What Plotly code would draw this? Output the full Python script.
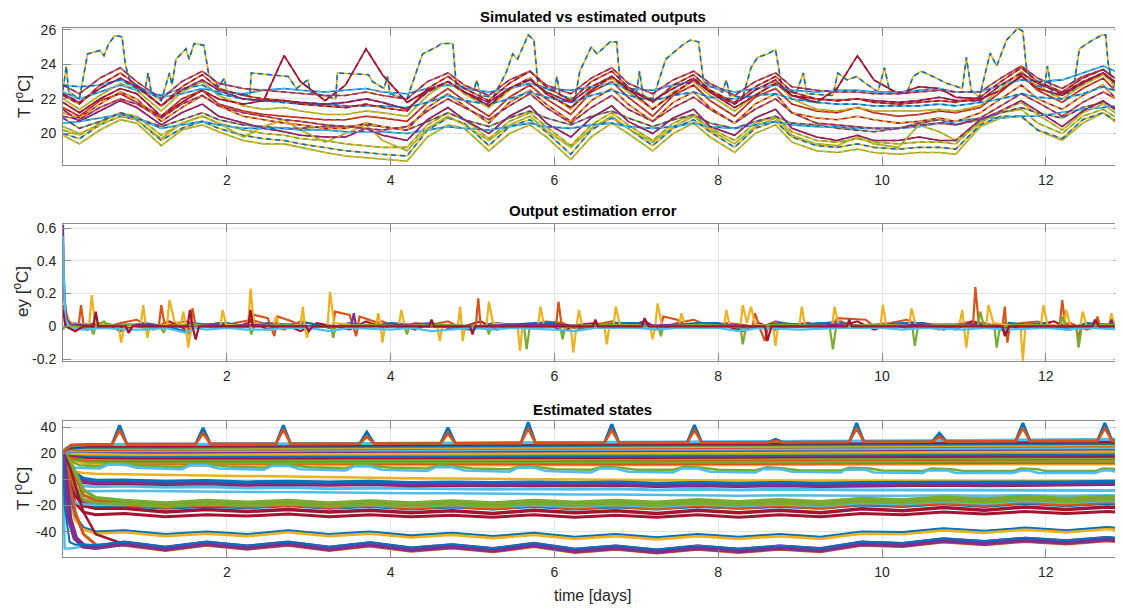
import plotly.graph_objects as go

# ---------------- colours (MATLAB default order) ----------------
BLU = '#0072BD'; ORA = '#D95319'; YEL = '#EDB120'; PUR = '#7E2F8E'
GRN = '#77AC30'; LBL = '#4DBEEE'; DRD = '#A2142F'

# ---------------- panel 1 : simulated vs estimated outputs ----------------
TOP_X = [0.0,
         0.2, 0.45, 0.7, 0.9, 1.2, 1.45, 1.7, 1.9, 2.2, 2.45, 2.7, 2.9,
         3.2, 3.45, 3.7, 3.9, 4.2, 4.45, 4.7, 4.9, 5.2, 5.45, 5.7, 5.9,
         6.2, 6.45, 6.7, 6.9, 7.2, 7.45, 7.7, 7.9, 8.2, 8.45, 8.7, 8.9,
         9.2, 9.45, 9.7, 9.9, 10.2, 10.45, 10.7, 10.9, 11.2, 11.45, 11.7, 11.9,
         12.2, 12.45, 12.7, 12.9, 13.0]

HIGH = [(0.0, 22.5), (0.04, 23.9), (0.07, 22.4), (0.2, 22.0), (0.3, 24.6), (0.45, 24.8), (0.5, 24.5),
        (0.56, 25.2), (0.63, 25.65), (0.72, 25.6), (0.76, 24.0), (0.82, 23.0), (1.0, 22.5), (1.04, 23.5),
        (1.08, 22.3), (1.2, 21.9), (1.3, 23.5), (1.33, 22.8), (1.38, 24.3), (1.5, 24.9), (1.54, 24.3),
        (1.6, 25.2), (1.72, 25.1), (1.78, 23.4), (1.9, 22.7), (1.97, 23.2), (2.0, 22.4), (2.28, 22.2),
        (2.3, 23.5), (2.75, 23.3), (2.85, 22.6), (2.99, 23.1), (3.02, 22.4), (3.33, 22.0), (3.35, 23.5),
        (3.73, 23.4), (3.78, 23.0), (3.92, 22.6), (3.96, 23.3), (3.99, 22.3), (4.2, 22.0), (4.39, 24.6),
        (4.56, 25.0), (4.62, 25.2), (4.76, 25.2), (4.8, 22.8), (5.02, 22.5), (5.05, 23.1), (5.1, 22.2),
        (5.25, 22.1), (5.41, 23.5), (5.49, 24.6), (5.55, 24.3), (5.68, 25.7), (5.75, 25.4), (5.8, 22.8),
        (6.0, 22.4), (6.03, 23.3), (6.07, 22.2), (6.25, 22.0), (6.31, 23.6), (6.45, 25.0), (6.52, 24.6),
        (6.68, 25.3), (6.76, 25.3), (6.8, 23.0), (7.0, 22.3), (7.04, 23.6), (7.08, 22.2), (7.2, 22.0),
        (7.36, 24.3), (7.56, 25.1), (7.66, 25.4), (7.76, 25.3), (7.82, 23.0), (8.05, 22.4), (8.1, 23.1),
        (8.14, 22.2), (8.3, 22.1), (8.4, 23.8), (8.48, 24.4), (8.6, 24.6), (8.7, 24.85), (8.78, 22.6),
        (8.95, 22.3), (9.04, 23.5), (9.08, 22.3), (9.4, 22.2), (9.46, 23.5), (9.57, 23.1), (9.69, 23.3),
        (9.77, 23.0), (9.95, 22.4), (10.03, 23.8), (10.09, 22.5), (10.3, 22.3), (10.38, 23.3), (10.48, 23.6),
        (10.62, 23.3), (10.79, 22.9), (10.98, 22.6), (11.03, 24.4), (11.09, 22.5), (11.19, 22.1),
        (11.32, 24.65), (11.4, 23.9), (11.52, 25.4), (11.66, 26.1), (11.72, 25.9), (11.76, 23.9),
        (11.84, 22.9), (11.98, 22.6), (12.02, 23.9), (12.08, 22.2), (12.33, 22.4), (12.41, 24.9),
        (12.57, 25.4), (12.69, 25.7), (12.73, 25.7), (12.76, 24.1), (12.82, 22.6), (12.9, 23.5), (13.0, 23.2)]

OUT_A = [22.8,
         22.3, 23.2, 23.8, 23.0, 22.0, 23.0, 23.6, 22.9, 22.6, 22.5, 22.4, 22.3,
         22.2, 22.2, 22.4, 22.2, 22.0, 23.0, 23.5, 22.8, 22.2, 23.1, 23.6, 22.8,
         22.3, 23.2, 23.8, 22.9, 22.3, 23.1, 23.6, 22.9, 22.2, 23.0, 23.5, 22.7,
         22.5, 22.4, 22.4, 22.3, 22.3, 22.4, 22.5, 22.4, 22.4, 23.2, 23.9, 23.2,
         22.6, 23.3, 23.7, 23.0, 22.8]
OUT_B = [21.8,
         21.2, 22.0, 22.6, 22.3, 21.0, 21.8, 22.5, 22.0, 21.7, 21.9, 24.5, 23.0,
         21.9, 22.8, 24.9, 23.4, 21.8, 22.5, 23.0, 22.4, 21.6, 22.6, 23.2, 22.3,
         21.5, 22.5, 23.3, 22.6, 21.4, 22.3, 23.1, 22.4, 21.5, 22.2, 22.9, 22.2,
         21.8, 22.6, 24.5, 23.1, 22.3, 22.7, 22.6, 22.1, 22.0, 22.5, 23.3, 22.6,
         22.2, 22.9, 23.5, 22.7, 22.3]
OUT_C = [22.8,
         22.7, 22.8, 23.1, 22.6, 22.2, 22.6, 22.8, 22.3, 22.0, 21.9, 21.8, 21.7,
         21.7, 21.6, 21.6, 21.6, 21.5, 21.8, 22.2, 21.9, 21.7, 22.0, 22.4, 22.1,
         21.8, 22.2, 22.5, 22.2, 21.9, 22.2, 22.4, 22.1, 22.0, 22.2, 22.3, 22.0,
         21.8, 21.7, 21.7, 21.6, 21.6, 21.6, 21.7, 21.6, 21.8, 22.0, 22.3, 22.1,
         22.0, 22.3, 22.7, 22.4, 22.4]
OUT_D = [22.4,
         22.0, 22.4, 22.8, 22.5, 22.1, 22.3, 22.6, 22.4, 22.3, 22.5, 22.6, 22.5,
         22.4, 22.5, 22.6, 22.4, 22.3, 22.6, 22.8, 22.6, 22.4, 22.6, 22.9, 22.6,
         22.5, 22.7, 22.9, 22.6, 22.5, 22.8, 23.0, 22.7, 22.4, 22.6, 22.8, 22.5,
         22.4, 22.5, 22.5, 22.4, 22.4, 22.5, 22.6, 22.4, 22.4, 22.8, 23.1, 23.0,
         23.1, 23.5, 23.9, 23.5, 23.3]
OUT_E = [21.0,
         20.8, 21.5, 22.0, 21.7, 20.9, 21.7, 22.2, 21.6, 21.2, 21.0, 20.8, 20.7,
         20.5, 20.4, 20.3, 20.2, 20.4, 21.3, 22.0, 21.5, 20.8, 21.6, 22.3, 21.5,
         20.6, 21.5, 22.2, 21.4, 20.7, 21.5, 22.1, 21.4, 20.6, 21.4, 22.0, 21.2,
         20.6, 20.5, 20.4, 20.3, 20.3, 20.5, 20.6, 20.5, 20.9, 21.6, 22.3, 21.8,
         21.0, 21.8, 22.4, 21.9, 21.7]
OUT_F = [21.5,
         21.0, 21.9, 22.3, 21.8, 21.0, 22.0, 22.5, 21.7, 21.3, 21.1, 21.0, 20.9,
         20.8, 20.8, 21.0, 20.9, 20.7, 21.8, 22.6, 21.9, 21.0, 22.1, 22.8, 22.0,
         21.1, 22.4, 23.0, 22.1, 21.0, 22.2, 22.8, 21.9, 21.0, 22.1, 22.6, 21.7,
         21.3, 21.2, 21.5, 21.2, 21.0, 21.1, 21.3, 21.2, 21.5, 22.4, 23.4, 22.5,
         21.8, 22.6, 23.2, 22.2, 22.0]
OUT_G = [22.0,
         21.4, 22.2, 22.9, 22.5, 21.3, 22.4, 23.0, 22.2, 21.6, 21.4, 21.5, 21.3,
         21.1, 21.1, 21.3, 21.2, 21.0, 22.2, 23.0, 22.3, 21.5, 22.5, 23.2, 22.4,
         21.4, 22.6, 23.2, 22.4, 21.4, 22.4, 23.0, 22.2, 21.3, 22.2, 23.0, 22.0,
         21.4, 21.3, 21.5, 21.3, 21.3, 21.3, 21.4, 21.3, 21.6, 22.6, 23.6, 22.7,
         22.0, 22.8, 23.4, 22.6, 22.3]
OUT_H = [21.4,
         20.7, 21.3, 21.9, 21.5, 20.5, 21.2, 21.7, 21.0, 20.6, 20.3, 20.1, 19.9,
         19.8, 19.8, 20.3, 19.9, 19.6, 20.8, 21.5, 20.8, 20.0, 21.0, 21.6, 20.6,
         19.8, 20.9, 21.6, 20.7, 20.0, 20.9, 21.4, 20.4, 19.9, 20.9, 21.4, 20.3,
         19.8, 19.6, 19.9, 19.6, 19.6, 19.8, 19.6, 19.6, 20.8, 21.3, 21.9, 21.3,
         20.4, 21.3, 21.9, 21.2, 21.0]
OUT_I = [20.6,
         20.7, 20.9, 21.1, 20.9, 20.3, 20.5, 20.7, 20.5, 20.3, 20.3, 20.3, 20.2,
         20.2, 20.1, 20.1, 20.1, 20.0, 20.2, 20.4, 20.3, 20.2, 20.4, 20.6, 20.4,
         20.3, 20.5, 20.6, 20.4, 20.3, 20.4, 20.6, 20.4, 20.3, 20.5, 20.7, 20.5,
         20.4, 20.4, 20.3, 20.3, 20.3, 20.4, 20.6, 20.7, 20.9, 20.9, 21.0, 21.0,
         21.2, 21.4, 21.5, 21.6, 21.6]
OUT_J = [20.9,
         20.3, 20.7, 21.2, 20.9, 20.4, 20.8, 21.2, 20.8, 20.5, 20.4, 20.3, 20.3,
         20.4, 20.4, 20.5, 20.4, 20.2, 20.7, 21.2, 20.8, 20.4, 20.9, 21.3, 20.9,
         20.5, 21.0, 21.3, 20.9, 20.4, 20.8, 21.1, 20.6, 20.3, 20.7, 21.0, 20.6,
         20.5, 20.3, 20.2, 20.1, 20.3, 20.6, 20.8, 20.5, 20.8, 21.2, 21.5, 21.2,
         20.9, 21.5, 21.8, 21.4, 21.3]
OUT_K = [20.4,
         20.0, 20.5, 21.0, 20.8, 19.7, 20.6, 21.0, 20.6, 19.8, 20.4, 20.8, 20.2,
         19.5, 20.0, 20.5, 19.6, 19.0, 20.3, 21.0, 20.5, 19.6, 20.5, 21.0, 20.2,
         19.2, 20.3, 21.0, 20.3, 19.5, 20.4, 21.0, 20.2, 19.4, 20.4, 20.9, 19.9,
         19.4, 19.3, 19.8, 19.4, 19.2, 20.5, 20.1, 19.6, 20.6, 21.3, 21.8, 21.1,
         20.2, 21.2, 21.7, 21.0, 20.8]
OUT_N = [22.3,
         21.8, 22.6, 23.2, 22.7, 21.6, 22.5, 23.1, 22.5, 22.0, 21.9, 21.9, 21.8,
         21.7, 21.8, 22.0, 21.8, 21.4, 22.4, 23.0, 22.4, 21.8, 22.6, 23.1, 22.4,
         21.8, 22.7, 23.3, 22.5, 21.9, 22.6, 23.2, 22.4, 21.7, 22.5, 23.1, 22.2,
         22.0, 21.9, 22.0, 21.9, 21.8, 21.9, 22.1, 21.9, 21.9, 22.8, 23.5, 22.9,
         22.3, 23.0, 23.5, 22.8, 22.6]
OUT_O = [21.2,
         20.9, 21.7, 22.4, 22.0, 20.7, 21.5, 22.2, 21.6, 21.0, 20.8, 20.6, 20.5,
         20.3, 20.3, 20.6, 20.4, 20.2, 21.5, 22.3, 21.6, 20.6, 21.8, 22.5, 21.7,
         20.7, 21.9, 22.6, 21.7, 20.7, 21.8, 22.4, 21.5, 20.6, 21.7, 22.3, 21.2,
         20.9, 20.8, 21.0, 20.8, 20.6, 20.7, 20.9, 20.7, 21.2, 22.0, 22.8, 22.0,
         21.4, 22.2, 22.8, 21.8, 21.6]
OUT_P = [22.2,
         21.7, 22.8, 23.5, 22.8, 21.6, 22.7, 23.4, 22.6, 22.2, 22.0, 21.9, 21.7,
         21.6, 21.5, 21.7, 21.5, 21.3, 22.6, 23.3, 22.6, 21.9, 22.9, 23.6, 22.7,
         21.9, 23.0, 23.6, 22.7, 21.8, 22.8, 23.4, 22.5, 21.8, 22.7, 23.3, 22.4,
         22.0, 21.9, 22.0, 21.8, 21.7, 21.8, 21.9, 21.8, 22.1, 23.0, 23.8, 23.0,
         22.4, 23.2, 23.7, 23.0, 22.7]
OUT_R = [20.2,
         19.9, 20.6, 21.2, 21.0, 19.9, 20.6, 21.0, 20.6, 20.2, 20.0, 19.9, 19.7,
         19.6, 19.4, 19.3, 19.2, 19.2, 20.5, 21.2, 20.8, 19.7, 20.7, 21.2, 20.4,
         19.3, 20.5, 21.2, 20.5, 19.6, 20.6, 21.1, 20.3, 19.6, 20.6, 21.0, 20.1,
         19.6, 19.5, 19.7, 19.5, 19.4, 19.5, 19.5, 19.4, 20.7, 21.2, 21.4, 20.6,
         20.0, 21.0, 21.4, 20.8, 20.7]
OUT_LOW2 = [20.0,
            19.7, 20.5, 21.0, 20.8, 19.6, 20.3, 20.7, 20.3, 19.9, 19.7, 19.6, 19.4,
            19.2, 19.0, 18.9, 18.8, 18.7, 20.2, 20.9, 20.6, 19.3, 20.4, 20.8, 20.1,
            18.8, 20.2, 20.9, 20.3, 19.3, 20.3, 20.8, 20.1, 19.2, 20.3, 20.7, 19.8,
            19.3, 19.2, 19.4, 19.2, 19.1, 19.2, 19.2, 19.1, 20.5, 21.0, 21.0, 20.2,
            19.7, 20.8, 21.2, 20.6, 20.5]
OUT_LOW1 = [19.9,
            19.4, 20.2, 20.8, 20.6, 19.3, 20.2, 20.5, 20.1, 19.6, 19.4, 19.4, 19.2,
            18.9, 18.7, 18.6, 18.5, 18.4, 19.8, 20.5, 20.3, 19.0, 20.0, 20.5, 19.8,
            18.5, 19.8, 20.6, 20.0, 19.0, 20.0, 20.6, 19.8, 18.9, 20.0, 20.5, 19.5,
            19.0, 18.9, 19.1, 18.9, 18.8, 18.9, 18.9, 18.8, 20.4, 20.9, 21.0, 20.2,
            19.6, 20.6, 21.2, 20.5, 20.4]

# (series, simulated colour, estimated colour)
TOP_SERIES = [(OUT_LOW1, GRN, YEL), (OUT_LOW2, YEL, BLU), (OUT_R, YEL, GRN), (OUT_K, GRN, YEL),
              (OUT_J, GRN, PUR), (OUT_I, BLU, LBL), (OUT_H, DRD, PUR), (OUT_O, DRD, YEL),
              (OUT_E, ORA, PUR), (OUT_F, DRD, ORA), (OUT_G, GRN, YEL), (OUT_C, LBL, BLU),
              (OUT_D, BLU, LBL), (OUT_N, PUR, DRD), (OUT_P, ORA, DRD), (OUT_B, DRD, DRD),
              (OUT_A, ORA, PUR)]

# ---------------- panel 2 : output estimation error ----------------
ERR_YEL = [(0.0, 0.45), (0.01, 0.2), (0.04, 0.08), (0.08, 0.03), (0.15, 0.01),
           (0.32, 0.01), (0.35, 0.19), (0.39, 0.02), (0.68, 0.0), (0.71, -0.10), (0.75, 0.0),
           (0.95, 0.01), (0.98, 0.13), (1.01, 0.0), (1.03, -0.07), (1.06, 0.0),
           (1.27, 0.01), (1.3, 0.16), (1.36, 0.03), (1.44, 0.01), (1.47, 0.09), (1.5, 0.0), (1.53, -0.13), (1.57, 0.0),
           (1.92, 0.0), (1.95, 0.10), (1.99, 0.01), (2.26, 0.0), (2.29, 0.23), (2.33, 0.02),
           (2.57, 0.0), (2.6, 0.06), (2.64, 0.0), (2.9, 0.01), (2.93, 0.12), (2.95, 0.0), (2.98, -0.07), (3.01, 0.0),
           (3.23, 0.0), (3.26, 0.21), (3.31, 0.02), (3.82, 0.0), (3.85, 0.08), (3.88, 0.0), (3.9, -0.10), (3.93, 0.0),
           (4.1, 0.0), (4.13, 0.10), (4.17, 0.01), (4.57, 0.0), (4.6, -0.09), (4.63, 0.0),
           (4.82, 0.0), (4.85, 0.12), (4.88, -0.09), (4.91, 0.0), (5.17, 0.0), (5.2, 0.15), (5.25, 0.02),
           (5.55, 0.0), (5.58, -0.15), (5.61, 0.0), (5.8, 0.0), (5.83, 0.12), (5.87, 0.01),
           (6.2, 0.0), (6.23, -0.16), (6.27, 0.0), (6.3, 0.10), (6.34, 0.0),
           (6.61, 0.0), (6.64, -0.11), (6.67, 0.0), (6.72, 0.0), (6.75, 0.12), (6.8, 0.01),
           (7.17, 0.0), (7.2, -0.08), (7.23, 0.0), (7.26, 0.14), (7.31, 0.01), (7.52, 0.0), (7.55, 0.08), (7.6, 0.0),
           (8.07, 0.0), (8.1, 0.10), (8.14, 0.0), (8.27, 0.0), (8.3, 0.13), (8.35, 0.02), (8.4, 0.12), (8.45, 0.01),
           (8.67, 0.0), (8.7, -0.12), (8.73, 0.0), (8.99, 0.0), (9.02, 0.12), (9.06, 0.0),
           (9.39, 0.0), (9.42, 0.12), (9.47, 0.01), (9.98, 0.0), (10.01, 0.13), (10.05, 0.01),
           (10.33, 0.0), (10.36, 0.11), (10.41, 0.01), (10.94, 0.0), (10.98, 0.10), (11.0, 0.0), (11.03, -0.13), (11.06, 0.0),
           (11.27, 0.0), (11.3, 0.13), (11.36, 0.02), (11.69, 0.0), (11.72, -0.21), (11.75, 0.0),
           (11.94, 0.0), (11.97, 0.13), (12.02, 0.01), (12.22, 0.0), (12.25, 0.10), (12.3, 0.0),
           (12.42, 0.0), (12.45, 0.09), (12.5, 0.0), (12.77, 0.0), (12.8, 0.08), (12.84, 0.0),
           (12.87, 0.0), (12.9, -0.14), (12.93, 0.0)]
ERR_ORA = [(0.0, 0.13), (0.03, 0.05), (0.1, 0.01), (0.19, 0.0), (0.22, 0.13), (0.25, 0.01),
           (1.17, 0.0), (1.2, 0.13), (1.24, 0.01), (1.52, 0.0), (1.55, -0.06), (1.58, 0.11), (1.62, 0.0),
           (2.3, 0.0), (2.33, 0.07), (2.5, 0.05), (2.58, -0.06), (2.62, 0.06), (2.8, 0.03), (2.9, 0.0),
           (3.3, 0.0), (3.32, 0.09), (3.5, 0.07), (3.58, -0.06), (3.62, 0.06), (3.85, 0.02), (3.9, 0.0),
           (5.04, 0.0), (5.07, 0.17), (5.1, 0.0), (6.02, 0.0), (6.05, 0.15), (6.09, 0.0),
           (7.3, 0.0), (7.33, 0.06), (7.5, 0.04), (7.6, 0.0), (8.42, 0.0), (8.45, 0.08), (8.5, 0.0),
           (8.57, -0.09), (8.61, 0.0), (9.4, 0.0), (9.45, 0.05), (9.8, 0.04), (9.9, 0.0),
           (11.11, 0.0), (11.14, 0.24), (11.18, 0.02), (11.47, 0.0), (11.5, 0.12), (11.53, -0.10), (11.56, 0.0),
           (12.17, 0.0), (12.2, 0.16), (12.24, 0.01), (12.37, 0.0), (12.4, -0.08), (12.43, 0.0),
           (12.6, 0.0), (12.63, 0.06), (12.66, 0.0), (13.0, 0.0)]
ERR_GRN = [(0.0, -0.02), (0.05, 0.02), (0.1, 0.0), (0.34, -0.01), (0.37, -0.05), (0.4, 0.0), (0.5, 0.03), (0.55, 0.0),
           (0.8, 0.01), (1.0, -0.01), (1.2, -0.01), (1.23, -0.04), (1.26, 0.0), (1.6, 0.01), (2.0, -0.01),
           (2.27, 0.0), (2.3, -0.05), (2.33, 0.0), (2.7, 0.01), (3.0, -0.01),
           (3.27, 0.0), (3.3, -0.07), (3.33, 0.0), (3.7, 0.01), (4.17, 0.0), (4.2, -0.05), (4.23, 0.0), (4.6, 0.01),
           (5.17, 0.0), (5.2, -0.05), (5.23, 0.0), (5.63, 0.0), (5.66, -0.14), (5.7, 0.0),
           (6.07, 0.0), (6.1, -0.08), (6.13, 0.0), (6.6, 0.01), (7.27, 0.0), (7.3, -0.06), (7.33, 0.0), (7.8, 0.01),
           (8.27, 0.0), (8.3, -0.11), (8.34, 0.0), (8.8, 0.01), (9.36, 0.0), (9.4, -0.14), (9.44, 0.0), (9.9, 0.01),
           (10.37, 0.0), (10.4, -0.12), (10.44, 0.0), (10.8, 0.01), (11.17, 0.0), (11.2, 0.09), (11.24, 0.01),
           (11.37, 0.0), (11.4, -0.13), (11.44, 0.0), (11.8, 0.01), (12.17, 0.0), (12.2, 0.06), (12.24, 0.0),
           (12.37, 0.0), (12.4, -0.13), (12.44, 0.0), (12.7, 0.01), (13.0, 0.0)]
ERR_DRD = [(0.0, 0.10), (0.03, 0.0), (0.15, -0.03), (0.25, 0.0), (0.37, 0.0), (0.4, 0.09), (0.43, 0.0),
           (0.77, 0.0), (0.8, -0.04), (0.85, 0.0), (1.52, 0.0), (1.55, 0.10), (1.58, 0.0), (1.62, -0.08), (1.66, 0.0),
           (2.26, 0.0), (2.29, 0.10), (2.32, 0.0), (2.97, 0.0), (3.0, -0.03), (3.05, 0.0),
           (4.47, 0.0), (4.5, 0.04), (4.53, 0.0), (4.97, 0.0), (5.0, -0.05), (5.03, 0.0),
           (6.47, 0.0), (6.5, 0.04), (6.53, 0.0), (7.07, 0.0), (7.1, 0.05), (7.15, 0.0),
           (8.57, 0.0), (8.6, -0.09), (8.65, 0.0), (9.57, 0.0), (9.6, 0.04), (9.63, 0.0),
           (11.47, 0.0), (11.5, -0.06), (11.55, 0.0), (12.57, 0.0), (12.6, 0.04), (12.65, 0.0), (13.0, 0.0)]
ERR_BLU = [(0.0, 0.52), (0.01, 0.3), (0.03, 0.08), (0.08, 0.02), (0.25, 0.01), (0.5, 0.02), (0.75, -0.01),
           (1.0, 0.02), (1.25, 0.0), (1.5, -0.03), (1.55, 0.02), (1.75, 0.01), (2.0, 0.02), (2.25, 0.0),
           (2.5, 0.02), (2.75, 0.01), (3.0, 0.02), (3.25, -0.01), (3.5, 0.02), (3.75, 0.0), (4.0, 0.02),
           (4.25, 0.01), (4.5, 0.02), (4.75, -0.01), (5.0, -0.02), (5.25, 0.02), (5.5, 0.01), (5.75, 0.02),
           (6.0, 0.02), (6.25, -0.01), (6.5, 0.0), (6.75, 0.02), (7.0, 0.02), (7.25, 0.0), (7.5, 0.01),
           (7.75, 0.02), (8.0, 0.02), (8.25, -0.01), (8.5, 0.0), (8.75, 0.02), (9.0, 0.01), (9.25, 0.02),
           (9.5, 0.02), (9.75, 0.0), (10.0, 0.01), (10.25, 0.02), (10.5, 0.02), (10.75, -0.02), (11.0, 0.01),
           (11.25, 0.02), (11.5, -0.03), (11.55, 0.02), (11.75, 0.01), (12.0, 0.02), (12.25, -0.02),
           (12.5, 0.02), (12.75, 0.01), (13.0, 0.01)]
ERR_LBL = [(0.0, 0.55), (0.01, 0.3), (0.03, 0.05), (0.08, -0.01), (0.25, -0.02), (0.5, -0.01), (0.75, -0.02),
           (1.0, -0.02), (1.25, -0.01), (1.5, -0.04), (1.6, -0.01), (1.75, -0.02), (2.0, -0.01), (2.25, -0.02),
           (2.5, -0.02), (2.75, -0.01), (3.0, -0.01), (3.25, -0.03), (3.5, -0.01), (4.0, -0.02), (4.25, -0.01),
           (4.5, -0.03), (5.0, -0.01), (5.25, -0.02), (5.5, -0.01), (6.0, -0.02), (6.25, -0.03), (6.5, -0.01),
           (7.0, -0.01), (7.25, -0.02), (7.5, -0.01), (8.0, -0.01), (8.25, -0.03), (8.5, -0.01), (9.0, -0.02),
           (9.5, -0.01), (10.0, -0.01), (10.25, -0.02), (10.5, -0.01), (11.0, -0.02), (11.25, -0.01),
           (11.5, -0.02), (12.0, -0.01), (12.25, -0.02), (12.5, -0.01), (13.0, -0.02)]
ERR_PUR = [(0.0, 0.62), (0.005, 0.35), (0.02, 0.15), (0.05, 0.04), (0.1, 0.01), (0.5, 0.0), (0.75, 0.01),
           (1.0, 0.01), (1.25, 0.0), (1.5, 0.0), (1.75, 0.01), (2.0, 0.0), (2.5, 0.01), (3.0, 0.0),
           (3.52, 0.0), (3.55, 0.08), (3.58, 0.0), (4.0, 0.01), (4.5, 0.0), (5.0, 0.0), (5.5, 0.01),
           (6.0, 0.01), (6.5, 0.0), (7.0, 0.0), (7.5, 0.01), (8.0, 0.01), (8.5, 0.0), (9.0, 0.0), (9.5, 0.01),
           (10.0, 0.0), (10.5, 0.01), (11.0, 0.01), (11.5, 0.0), (12.0, 0.0), (12.77, 0.0), (12.8, 0.04),
           (12.83, 0.0), (13.0, 0.0)]

# small baseline jitter read around zero
ERR_NZ_T = [0.1, 0.3, 0.5, 0.7, 0.9, 1.1, 1.3, 1.5, 1.7, 1.9, 2.1, 2.3, 2.5, 2.7, 2.9,
            3.1, 3.3, 3.5, 3.7, 3.9, 4.1, 4.3, 4.5, 4.7, 4.9, 5.1, 5.3, 5.5, 5.7, 5.9,
            6.1, 6.3, 6.5, 6.7, 6.9, 7.1, 7.3, 7.5, 7.7, 7.9, 8.1, 8.3, 8.5, 8.7, 8.9,
            9.1, 9.3, 9.5, 9.7, 9.9, 10.1, 10.3, 10.5, 10.7, 10.9, 11.1, 11.3, 11.5, 11.7, 11.9,
            12.1, 12.3, 12.5, 12.7, 12.9]
ERR_NZ_DRD = [0.01, -0.02, 0.02, -0.03, 0.01, -0.01, 0.03, -0.02, 0.0, 0.02,
              -0.01, 0.03, -0.02, 0.01, -0.03, 0.02, 0.0, -0.02, 0.03, -0.01,
              0.01, -0.02, 0.02, -0.01, 0.0, 0.03, -0.02, 0.01, -0.01, 0.02,
              -0.03, 0.01, 0.02, -0.01, 0.0, 0.03, -0.02, 0.01, -0.01, 0.02,
              0.0, -0.03, 0.02, -0.02, 0.01, 0.02, -0.01, 0.0, 0.03, -0.02,
              0.01, -0.01, 0.02, 0.0, -0.02, 0.03, -0.01, 0.02, -0.02, 0.01,
              0.03, -0.02, 0.01, -0.01, 0.02]
ERR_NZ_ORA = [0.02, 0.0, -0.01, 0.02, 0.04, -0.02, 0.01, 0.03, 0.0, -0.01,
              0.02, 0.04, 0.01, -0.02, 0.03, 0.01, -0.01, 0.02, 0.0, 0.03,
              -0.01, 0.02, 0.01, 0.03, -0.02, 0.0, 0.02, -0.01, 0.01, 0.03,
              0.02, -0.02, 0.01, 0.03, 0.0, 0.01, -0.01, 0.02, 0.04, 0.0,
              0.02, 0.01, -0.01, 0.03, 0.01, 0.0, 0.02, 0.03, -0.01, 0.01,
              0.02, 0.04, 0.0, -0.02, 0.01, 0.03, 0.01, -0.01, 0.02, 0.03,
              0.0, 0.02, -0.02, 0.01, 0.02]

ERR_SERIES = [(ERR_BLU, BLU), (ERR_ORA, ORA), (ERR_YEL, YEL), (ERR_PUR, PUR),
              (ERR_GRN, GRN), (ERR_LBL, LBL), (ERR_DRD, DRD)]

# ---------------- panel 3 : estimated states ----------------
ST_X = [0.0, 0.02, 0.08, 0.15, 0.25, 0.4,
        0.75, 1.25, 1.75, 2.25, 2.75, 3.25, 3.75, 4.25, 4.75, 5.25, 5.75, 6.25, 6.75,
        7.25, 7.75, 8.25, 8.75, 9.25, 9.75, 10.25, 10.75, 11.25, 11.75, 12.25, 12.75, 13.0]

ST_P1 = [21, 5, -30, -45, -51, -52,
         -49, -53, -49, -52, -49, -53, -49.5, -53.5, -51, -54, -50, -54.5, -52,
         -55, -52, -54.5, -52, -54, -49, -50, -46.5, -48.5, -46, -48, -45.5, -47]
ST_P2 = [21, 15, -5, -25, -42, -50,
         -50.5, -54.5, -50.5, -53.5, -50.5, -54.5, -51, -55, -52.5, -55.5, -51.5, -56, -53.5,
         -56.5, -53.5, -56, -53.5, -55.5, -50.5, -51.5, -48, -50, -47.5, -49.5, -47, -48.5]
ST_P3 = [21, -20, -48, -50, -50, -50.5,
         -47.7, -51.7, -47.7, -50.7, -47.7, -51.7, -48.2, -52.2, -49.7, -52.7, -48.7, -53.2, -50.7,
         -53.7, -50.7, -53.2, -50.7, -52.7, -47.7, -48.7, -45.2, -47.2, -44.7, -46.7, -44.2, -45.7]
ST_P4 = [21, 19, 10, -5, -25, -42,
         -49.7, -53.7, -49.7, -52.7, -49.7, -53.7, -50.2, -54.2, -51.7, -54.7, -50.7, -55.2, -52.7,
         -55.7, -52.7, -55.2, -52.7, -54.7, -49.7, -50.7, -47.2, -49.2, -46.7, -48.7, -46.2, -47.7]
ST_P5 = [21, -53, -53, -52.5, -51, -50.5,
         -48.5, -52.5, -48.5, -51.5, -48.5, -52.5, -49, -53, -50.5, -53.5, -49.5, -54, -51.5,
         -54.5, -51.5, -54, -51.5, -53.5, -48.5, -49.5, -46, -48, -45.5, -47.5, -45, -46.5]
ST_Y1 = [21, 12, -15, -30, -38, -41,
         -40, -43, -41, -43, -40, -43, -41, -44, -42, -44.5, -42, -45, -43,
         -45.5, -43, -45, -43, -45, -41, -41.5, -38.5, -40.5, -38, -40, -37.5, -39]
ST_Y2 = [21, 14, -12, -28, -36.5, -39.8,
         -38.8, -41.8, -39.8, -41.8, -38.8, -41.8, -39.8, -42.8, -40.8, -43.3, -40.8, -43.8, -41.8,
         -44.3, -41.8, -43.8, -41.8, -43.8, -39.8, -40.3, -37.3, -39.3, -36.8, -38.8, -36.3, -37.8]
ST_G1 = [21, 20, 15, 5, -8, -14,
         -16, -18, -16, -17.5, -16, -18, -16.5, -18, -16.5, -18, -16, -17.5, -16,
         -17.5, -15.5, -17, -15.5, -17, -14.5, -15.5, -13.5, -15, -13, -14.5, -13, -14]
ST_G2 = [21, 18, 8, -5, -15, -18,
         -18.5, -20.5, -18.5, -20, -18.5, -20.5, -19, -20.5, -19, -20.5, -18.5, -20, -18.5,
         -20, -18, -19.5, -18, -19.5, -17, -18, -16, -17.5, -15.5, -17, -15.5, -16.5]
ST_O1 = [21, 20, 14, 2, -12, -16,
         -17.5, -19.5, -17.5, -19, -17.5, -19.5, -18, -19.5, -18, -19.5, -17.5, -19, -17.5,
         -19, -17, -18.5, -17, -18.5, -16, -17, -15, -16.5, -14.5, -16, -14.5, -15.5]
ST_LB2 = [21, 10, -10, -18, -19, -19.5,
          -19, -20.5, -19, -20, -19, -20.5, -19.5, -21, -19.5, -21, -19.5, -21, -19.5,
          -21, -19, -20.5, -19, -20.5, -18, -19, -17, -18.5, -16.5, -18, -16.5, -17.5]
ST_R1 = [21, 18, 5, -8, -16, -19,
         -19.5, -21.5, -19.5, -21, -19.5, -21.5, -20, -22, -20.5, -22.5, -20, -22, -20.5,
         -22.5, -20, -22, -20, -22, -19, -20, -18, -20, -17.5, -19.5, -17.5, -18.5]
ST_DR1 = [21, 16, 0, -12, -20, -22,
          -22, -25, -23, -24.5, -23, -25, -23.5, -25.5, -24, -26, -23.5, -25.5, -24,
          -26, -23.5, -25.5, -23.5, -25.5, -22.5, -24, -21.5, -23.5, -21, -23, -21, -22]
ST_DR2 = [21, 14, -5, -18, -25, -27,
          -26, -28.5, -27, -28, -26.5, -28.5, -27, -28.5, -27.5, -29, -27, -29, -27.5,
          -29, -27, -29, -27, -28.5, -26, -27, -25, -26.5, -24.5, -26, -24.5, -25.5]
ST_B2 = [21, 17, 3, -10, -18, -20.5,
         -20.5, -22.5, -21, -22, -20.5, -22.5, -21, -23, -21.5, -23, -21, -23, -21.5,
         -23, -21, -22.5, -21, -22.5, -20, -21, -19, -21, -18.5, -20.5, -18.5, -19.5]
ST_PB1 = [21, 18, 8, 2, -1, -2,
          -1.5, -2.5, -2, -3, -2.5, -3, -2.5, -3.5, -3, -3.5, -3, -3.5, -3,
          -4, -3.5, -4, -3.5, -4, -3.5, -3.5, -3, -3.5, -3, -3, -2.5, -2.5]
ST_BL1 = [21, 19, 12, 5, 1, -0.5,
          -0.3, -1.3, -0.8, -1.8, -1.3, -1.8, -1.3, -2.3, -1.8, -2.3, -1.8, -2.3, -1.8,
          -2.8, -2.3, -2.8, -2.3, -2.8, -2.3, -2.3, -1.8, -2.3, -1.8, -1.8, -1.3, -1.3]
ST_DR4 = [21, 17, 6, 0, -2.5, -3.5,
          -3, -4, -3.5, -4.5, -4, -4.5, -4, -5, -4.5, -5, -4.5, -5, -4.5,
          -5.5, -5, -5.5, -5, -5.5, -5, -5, -4.5, -5, -4.5, -4.5, -4, -4]
ST_LB1 = [21, 12, 2, -3, -5, -5.5,
          -5, -6, -5.5, -6.5, -6, -7, -6.5, -7, -7, -7.5, -7, -7.5, -7,
          -8, -7.5, -8, -7.5, -8, -8, -8, -8, -8.5, -8, -8.5, -8, -8.5]
ST_LB3 = [21, 8, -5, -8, -8.5, -9,
          -8.5, -9, -9, -9.5, -9.5, -10, -10, -10.5, -10.5, -11, -11, -11.5, -11.5,
          -12, -12, -12.5, -12, -12.5, -12.5, -12.5, -12, -12.5, -12, -12.5, -12, -12.5]
ST_YL1 = [21, 15, 8, 6, 5, 4.5,
          4, 3.5, 3, 2.5, 2, 1.5, 1.2, 1, 0.8, 0.5, 0.3, 0, -0.2,
          -0.4, -0.5, -0.7, -0.8, -1, -1, -1, -1, -1, -1, -1, -1, -1]

LOW_STATES = [(ST_LB3, LBL, 2.5), (ST_YL1, YEL, 2.5), (ST_LB1, LBL, 3), (ST_DR4, DRD, 2.5),
              (ST_PB1, PUR, 5), (ST_BL1, BLU, 3),
              (ST_DR2, DRD, 3), (ST_DR1, DRD, 3.5), (ST_B2, BLU, 2), (ST_R1, ORA, 3),
              (ST_LB2, LBL, 2.5), (ST_O1, ORA, 3), (ST_G2, GRN, 3), (ST_G1, GRN, 3.5),
              (ST_Y1, YEL, 4), (ST_Y2, BLU, 1.8),
              (ST_P4, DRD, 2.5), (ST_P2, ORA, 3), (ST_P5, LBL, 2.5), (ST_P1, PUR, 5.5), (ST_P3, BLU, 2)]

STC_X = [0, 0.03, 0.1, 0.3, 1, 3, 5, 7, 9, 11, 13]
ST_T1 = [21, 24, 26, 27, 27, 27.5, 28, 28.5, 29, 30, 31]
ST_T2 = [21, 23, 25, 26, 26, 26.5, 27, 27.5, 28, 28.5, 29]
ST_T3 = [21, 22.5, 24, 24.5, 24.5, 25, 25.5, 26, 26.5, 27, 27.5]
ST_T4 = [21, 22, 23, 23, 23, 23.5, 24, 24.5, 25, 25.5, 26]
ST_T5 = [21, 21.5, 22, 21.5, 21, 21.5, 22, 22, 22.5, 23, 23.5]
ST_T6 = [21, 21, 20.5, 20, 19.5, 20, 20.5, 20.5, 21, 21.5, 22]
ST_T7 = [21, 20.5, 19.5, 18.5, 18, 18, 18.5, 18.5, 19, 19.5, 20]
ST_T8 = [21, 20, 18.5, 17, 16.5, 16.5, 17, 17, 17.5, 17.5, 18]
ST_T9 = [21, 19.5, 17, 15, 14.5, 14.5, 15, 15, 15.5, 15.5, 16]
ST_T10 = [21, 19, 16, 13.5, 13, 13, 13, 13.5, 13.5, 14, 14]
ST_T11 = [21, 18.5, 15, 12, 11, 11, 11, 11.5, 11.5, 12, 12]
ST_T12 = [21, 20, 19, 18, 17.5, 17.5, 18, 18, 18.5, 19, 19]
ST_T13 = [21, 21.5, 22, 22, 22, 22.5, 23, 23, 23.5, 24, 24.5]
ST_T14 = [21, 22.5, 24, 25, 25, 25.5, 26, 26.5, 27, 27.5, 28]
ST_T15 = [21, 20, 18, 16, 15.5, 15, 15.5, 15.5, 16, 16.5, 17]
ST_T16 = [21, 19.5, 16.5, 14, 12.5, 12.5, 12, 12, 12.5, 12.5, 13]
ST_T17 = [21, 22, 23.5, 24, 24, 24.2, 24.8, 25.2, 25.8, 26.2, 26.8]
ST_T18 = [21, 20.5, 20, 19.2, 19, 19, 19.5, 19.8, 20, 20.5, 21]

TOP_STATES = [(ST_T11, YEL, 3), (ST_T16, ORA, 3), (ST_T10, GRN, 3), (ST_T9, ORA, 3),
              (ST_T15, GRN, 3), (ST_T8, DRD, 3), (ST_T12, PUR, 3), (ST_T7, BLU, 3),
              (ST_T18, GRN, 3), (ST_T6, YEL, 3), (ST_T5, PUR, 3), (ST_T13, LBL, 3), (ST_T4, ORA, 3),
              (ST_T17, YEL, 3), (ST_T3, GRN, 3), (ST_T14, BLU, 3), (ST_T2, DRD, 3), (ST_T1, LBL, 3)]

HUMP_LBL = [(0, 21), (0.05, 14), (0.15, 9), (0.45, 8.5), (0.55, 11.5), (0.75, 11.5), (0.9, 9),
            (1.45, 8), (1.55, 11), (1.75, 11), (1.9, 8.5), (2.45, 7.5), (2.55, 10.5), (2.75, 10.5), (2.9, 8),
            (3.45, 7), (3.55, 10), (3.75, 10), (3.9, 7.5), (4.45, 6.5), (4.55, 9.5), (4.75, 9.5), (4.9, 7),
            (5.45, 6), (5.55, 9), (5.75, 9), (5.9, 6.5), (6.45, 5.5), (6.55, 8.5), (6.75, 8.5), (6.9, 6),
            (7.45, 5.5), (7.55, 8.5), (7.75, 8.5), (7.9, 6), (8.45, 5.5), (8.55, 8), (8.75, 8), (8.9, 6),
            (9.5, 5.5), (9.55, 7.5), (9.8, 7.5), (9.9, 5.5), (10.5, 5), (10.55, 7), (10.8, 7), (10.9, 5),
            (11.6, 5), (11.7, 7), (11.8, 7), (11.9, 5), (12.6, 5), (12.7, 7), (12.8, 7), (12.9, 5), (13.0, 5)]
HUMP_GRN = [(0, 21), (0.05, 16), (0.2, 11), (0.45, 10), (0.6, 13), (0.8, 12), (1.0, 10.5),
            (1.45, 9.5), (1.6, 12.5), (1.8, 11.5), (2.0, 10), (2.45, 9), (2.6, 12), (2.8, 11), (3.0, 9.5),
            (3.45, 8.5), (3.6, 11.5), (3.8, 10.5), (4.0, 9), (4.45, 8.5), (4.6, 11), (4.8, 10), (5.0, 8.5),
            (5.45, 8), (5.6, 10.5), (5.8, 9.5), (6.0, 8), (6.45, 7.5), (6.6, 10), (6.8, 9), (7.0, 7.5),
            (7.45, 7.5), (7.6, 10), (7.8, 9), (8.0, 7.5), (8.45, 7), (8.6, 9.5), (8.8, 8.5), (9.0, 7),
            (9.5, 7), (9.6, 9), (9.85, 8.5), (10.0, 7), (10.5, 6.5), (10.6, 8.5), (10.85, 8), (11.0, 6.5),
            (11.6, 6.5), (11.7, 8.5), (11.9, 8), (12.0, 6.5), (12.6, 6.5), (12.7, 8.5), (12.9, 8), (13.0, 6.5)]

SPK_DAYS = [0.69, 1.71, 2.69, 3.71, 4.70, 5.68, 6.70, 7.71, 8.70, 9.69, 10.70, 11.72, 12.72]
SPK_BASE = [27.3, 27.4, 27.5, 27.6, 27.8, 28.0, 28.2, 28.4, 28.6, 28.9, 29.2, 29.5, 29.8]
SPK_BLUE = [41.8, 39.7, 41.8, 36.6, 40.0, 44.0, 42.5, 41.8, 31.0, 43.5, 35.6, 43.5, 43.5]
SPK_RED = [38.0, 35.6, 38.7, 33.0, 35.5, 39.3, 38.0, 38.0, 29.5, 39.5, 33.0, 39.5, 39.5]

# ---------------- figure ----------------
# the page body has an 8 px margin, so the figure is 8 px smaller and positions are shifted by 8
OFF = 8
W, H = 1123 - OFF, 609 - OFF
XL, XR = (63 - OFF) / W, (1122 - OFF) / W
DOM = {1: (1 - (165 - OFF) / H, 1 - (28 - OFF) / H),
       2: (1 - (361 - OFF) / H, 1 - (224 - OFF) / H),
       3: (1 - (557 - OFF) / H, 1 - (421 - OFF) / H)}
FONT = 'Liberation Sans, Arial, Helvetica, sans-serif'
AX_COL = '#8a8a8a'
GRID_COL = '#e4e4e4'
XRANGE = [0, 12.93]

fig = go.Figure()


def add_line(xs, ys, color, width, axis, dash=None):
    line = dict(color=color, width=width)
    if dash:
        line['dash'] = dash
    fig.add_trace(go.Scatter(x=xs, y=ys, mode='lines', line=line,
                             xaxis='x' + axis, yaxis='y' + axis,
                             hoverinfo='skip', showlegend=False))


# panel 1: simulated (solid) first, then estimated (dashed) on top
add_line([p[0] for p in HIGH], [p[1] for p in HIGH], YEL, 1.6, '')
for ys, c_sim, c_est in TOP_SERIES:
    add_line(TOP_X, ys, c_sim, 1.6, '')
add_line([p[0] for p in HIGH], [p[1] for p in HIGH], BLU, 1.6, '', dash='5px,4px')
for ys, c_sim, c_est in TOP_SERIES:
    add_line(TOP_X, ys, c_est, 1.6, '', dash='5px,4px')

# panel 2
add_line(ERR_NZ_T, ERR_NZ_ORA, ORA, 2.0, '2')
add_line(ERR_NZ_T, ERR_NZ_DRD, DRD, 2.0, '2')
for data, col in ERR_SERIES:
    add_line([p[0] for p in data], [p[1] for p in data], col, 2.2, '2')

# panel 3
for ys, col, w in TOP_STATES:
    add_line(STC_X, ys, col, w, '3')
add_line([p[0] for p in HUMP_GRN], [p[1] for p in HUMP_GRN], GRN, 2.5, '3')
add_line([p[0] for p in HUMP_LBL], [p[1] for p in HUMP_LBL], LBL, 2.5, '3')
for ys, col, w in LOW_STATES:
    add_line(ST_X, ys, col, w, '3')

for peaks, col in [(SPK_BLUE, BLU), (SPK_RED, ORA)]:
    xs, ys = [0.0, 0.1], [21, 26.5]
    for d, b, p in zip(SPK_DAYS, SPK_BASE, peaks):
        xs += [d - 0.09, d, d + 0.09]
        ys += [b, p, b]
    xs.append(13.0)
    ys.append(30.0)
    add_line(xs, ys, col, 2.8, '3')

axis_common = dict(showline=True, linecolor=AX_COL, linewidth=1, mirror='ticks',
                   ticks='inside', ticklen=8, tickcolor=AX_COL, tickwidth=1,
                   showgrid=True, gridcolor=GRID_COL, gridwidth=1, zeroline=False,
                   tickfont=dict(family=FONT, size=14, color='#262626'))

layout = dict(width=W, height=H, margin=dict(l=0, r=0, t=0, b=0, autoexpand=False),
              paper_bgcolor='white', plot_bgcolor='white', showlegend=False)

yranges = {1: [18.18, 26.1], 2: [-0.212, 0.625], 3: [-59.5, 45]}
yticks = {1: [20, 22, 24, 26], 2: [-0.2, 0, 0.2, 0.4, 0.6], 3: [-40, -20, 0, 20, 40]}
yticktext = {1: ['20', '22', '24', '26'], 2: ['-0.2', '0', '0.2', '0.4', '0.6'],
             3: ['-40', '-20', '0', '20', '40']}

for i in (1, 2, 3):
    sx = '' if i == 1 else str(i)
    layout['xaxis' + sx] = dict(axis_common, domain=[XL, XR], range=XRANGE, anchor='y' + sx,
                                tickvals=[2, 4, 6, 8, 10, 12], ticklabelstandoff=2)
    layout['yaxis' + sx] = dict(axis_common, domain=list(DOM[i]), range=yranges[i], anchor='x' + sx,
                                tickvals=yticks[i], ticktext=yticktext[i], ticklabelstandoff=3)

fig.update_layout(**layout)

cx = (XL + XR) / 2
ann = []
for text, py in [('Simulated vs estimated outputs', 17), ('Output estimation error', 211),
                 ('Estimated states', 409)]:
    ann.append(dict(text='<b>' + text + '</b>', x=cx, y=1 - (py - OFF) / H, xref='paper', yref='paper',
                    showarrow=False, xanchor='center', yanchor='middle',
                    font=dict(family=FONT, size=15, color='#000000')))
for text, px, py in [('T [<sup>o</sup>C]', 23, 97), ('ey [<sup>o</sup>C]', 21, 292),
                     ('T [<sup>o</sup>C]', 22, 489)]:
    ann.append(dict(text=text, x=(px - OFF) / W, y=1 - (py - OFF) / H, xref='paper', yref='paper',
                    textangle=-90, showarrow=False, xanchor='center', yanchor='middle',
                    font=dict(family=FONT, size=17, color='#262626')))
ann.append(dict(text='time [days]', x=cx, y=1 - (595 - OFF) / H, xref='paper', yref='paper',
                showarrow=False, xanchor='center', yanchor='middle',
                font=dict(family=FONT, size=16, color='#262626')))
fig.update_layout(annotations=ann)

fig.write_html('out.html')
